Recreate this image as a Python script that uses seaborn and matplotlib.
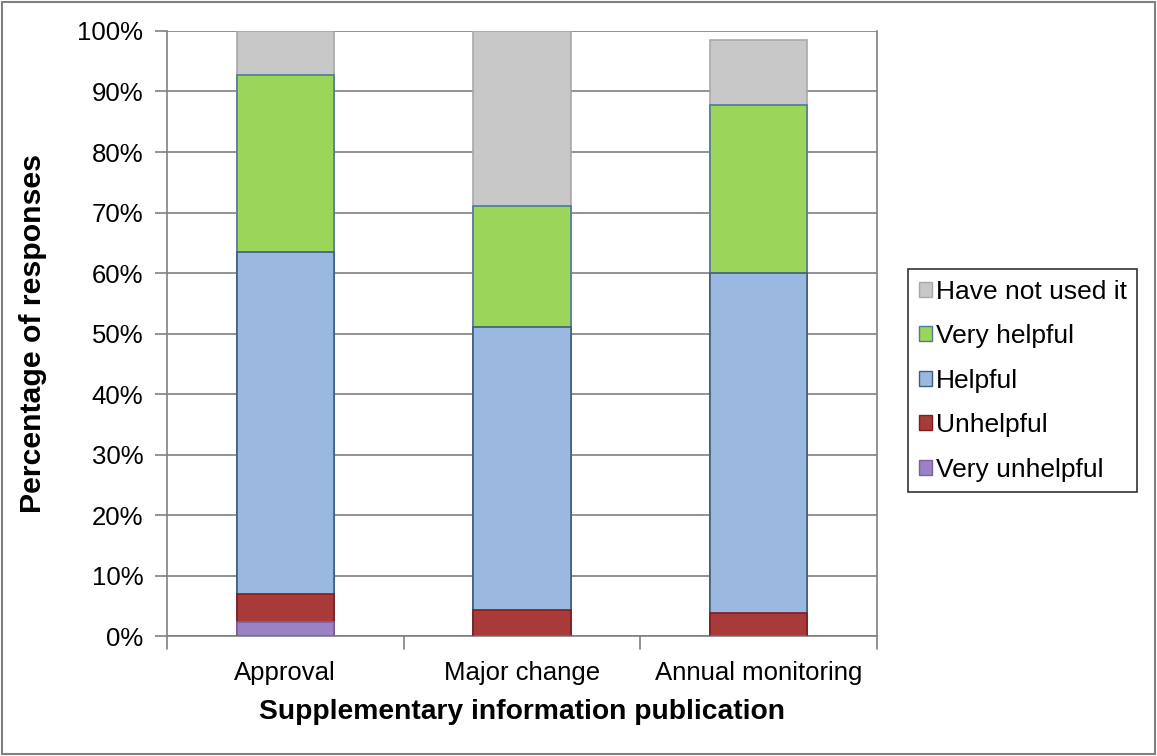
import numpy as np
import pandas as pd
import matplotlib
matplotlib.use("Agg")
import matplotlib.pyplot as plt
import matplotlib.patches as mpatches
import seaborn as sns

categories = ["Approval", "Major change", "Annual monitoring"]
series = ["Very unhelpful", "Unhelpful", "Helpful", "Very helpful", "Have not used it"]
very_unhelpful = [2.4, 0.0, 0.0]
unhelpful = [4.5, 4.3, 3.8]
helpful = [56.6, 46.7, 56.2]
very_helpful = [29.2, 20.0, 27.8]
not_used = [7.3, 29.0, 10.7]
colors = ["#9B82C4", "#A83B39", "#9BB8E0", "#9BD65A", "#C8C8C8"]
edges = ["#7A62A0", "#7E1E1E", "#3E5D80", "#4E7A9A", "#A8A8A8"]

sns.set_style("white")
plt.rcParams["font.family"] = ["Liberation Sans", "DejaVu Sans"]
plt.rcParams["text.color"] = "black"
plt.rcParams["axes.labelcolor"] = "black"
plt.rcParams["xtick.labelcolor"] = "black"
plt.rcParams["ytick.labelcolor"] = "black"

fig = plt.figure(figsize=(11.57, 7.56), dpi=100)
ax = fig.add_axes([0.1443, 0.1587, 0.758 - 0.1443, 0.959 - 0.1587])

layers = [very_unhelpful, unhelpful, helpful, very_helpful, not_used]
cum = np.cumsum(np.array(layers), axis=0)

# draw from the top layer down so each cumulative bar covers the one below
for i in range(len(series) - 1, -1, -1):
    df = pd.DataFrame({"cat": categories, "val": cum[i]})
    sns.barplot(data=df, x="cat", y="val", color=colors[i], width=0.41,
                edgecolor=edges[i], linewidth=1.2, saturation=1, ax=ax, zorder=3)

ax.set_ylim(0, 100)
ax.set_xlim(-0.5, 2.5)
ax.set_yticks(np.arange(0, 101, 10))
ax.set_yticklabels([f"{v}%" for v in range(0, 101, 10)], fontsize=18.5)
ax.tick_params(axis="x", labelsize=18.5, length=0, pad=18)
ax.tick_params(axis="y", length=9, width=1.2, color="#808080", direction="out", left=True, pad=8)
ax.yaxis.grid(True, color="#808080", linewidth=1.2, zorder=0)
ax.set_axisbelow(True)
for x in [-0.5, 0.5, 1.5, 2.5]:
    ax.plot([x, x], [0, -2.2], color="#808080", linewidth=1.2, clip_on=False)
for s in ax.spines.values():
    s.set_color("#808080")
    s.set_linewidth(1.2)
ax.spines["top"].set_visible(False)

ax.set_xlabel("Supplementary information publication", fontsize=20.3, fontweight="bold", labelpad=10)
ax.set_ylabel("Percentage of responses", fontsize=21.8, fontweight="bold", labelpad=22)

handles = [mpatches.Patch(facecolor=colors[i], edgecolor=edges[i], label=series[i])
           for i in range(len(series) - 1, -1, -1)]
leg = fig.legend(handles=handles, loc="upper left", bbox_to_anchor=(908 / 1157, 1 - 269 / 756),
                 fontsize=19, frameon=True, fancybox=False, handlelength=0.5, handleheight=0.5,
                 handletextpad=0.15, labelspacing=0.78, borderpad=0.4, borderaxespad=0)
leg.get_frame().set_edgecolor("black")
leg.get_frame().set_linewidth(1.2)

fig.patches.append(mpatches.Rectangle((0.002, 0.002), 0.996, 0.996, transform=fig.transFigure,
                                      fill=False, edgecolor="#808080", linewidth=1.5))

fig.savefig("out.png", dpi=100)
